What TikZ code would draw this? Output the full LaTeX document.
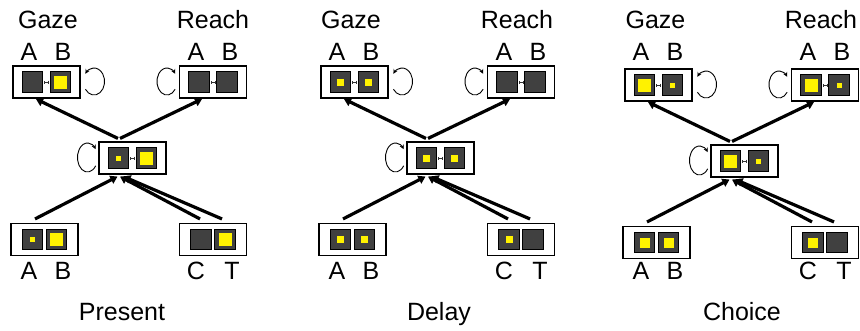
\documentclass[tikz,border=0pt]{standalone}
\usepackage{fontspec}
\setmainfont{Liberation Sans}
\usetikzlibrary{calc,arrows.meta}
\definecolor{sqfill}{HTML}{404040}
\tikzset{
  outer/.style={draw=black, line width=1.1pt, fill=white, minimum width=67pt, minimum height=32pt, inner sep=0pt},
  sq/.style={draw=black, line width=0.8pt, fill=sqfill, minimum size=20.5pt, inner sep=0pt},
  ylw/.style={fill=yellow, minimum size=#1, inner sep=0pt},
  lbl/.style={font=\fontsize{25}{25}\selectfont, anchor=base, inner sep=0pt},
  arr/.style={line width=3.2pt, -{Triangle[length=7pt,width=8.5pt]}},
  selfloop/.style={line width=0.9pt, -{Stealth[length=4.5pt,width=4.5pt]}},
  link/.style={line width=0.7pt, draw=black!80, {Bar[width=3pt]}-{Bar[width=3pt]}}
}
% box with two linked squares: name, x, y (image coords), yellow A, yellow B
\newcommand\topbox[5]{%
  \node[outer] (#1) at (#2,-#3) {};
  \node[sq] (#1-a) at ($(#1.center)+(-14pt,0)$) {};
  \node[sq] (#1-b) at ($(#1.center)+(14pt,0)$) {};
  \node[ylw=#4pt] at (#1-a) {};
  \node[ylw=#5pt] at (#1-b) {};
  \draw[link] ($(#1-a.east)+(1pt,0)$) -- ($(#1-b.west)+(-1pt,0)$);
}
% box with two adjacent squares
\newcommand\botbox[5]{%
  \node[outer] (#1) at (#2,-#3) {};
  \node[sq] (#1-a) at ($(#1.center)+(-12pt,0)$) {};
  \node[sq] (#1-b) at ($(#1.center)+(12pt,0)$) {};
  \node[ylw=#4pt] at (#1-a) {};
  \node[ylw=#5pt] at (#1-b) {};
}
% connectors and self loops of one panel
\newcommand\wires[1]{%
  \coordinate (#1s1) at ($(#1m.north)+(-14.5pt,3pt)$);
  \coordinate (#1s2) at ($(#1m.north)+(-12.5pt,3pt)$);
  \coordinate (#1t1) at ($(#1g.south)+(-10.5pt,-0.5pt)$);
  \coordinate (#1t2) at ($(#1r.south)+(-11pt,-0.5pt)$);
  \draw[arr] (#1s1) -- (#1t1);
  \draw[arr] (#1s2) -- (#1t2);
  \coordinate (#1b1) at ($(#1ab.north)+(-9.5pt,4pt)$);
  \coordinate (#1b2) at ($(#1ct.north)+(-13pt,4pt)$);
  \coordinate (#1b3) at ($(#1ct.north)+(9pt,4pt)$);
  \coordinate (#1e1) at ($(#1m.south)+(-15pt,-2pt)$);
  \coordinate (#1e2) at ($(#1m.south)+(-12.5pt,-2pt)$);
  \coordinate (#1e3) at ($(#1m.south)+(-9pt,-2pt)$);
  \draw[arr] (#1b1) -- (#1e1);
  \draw[arr] (#1b2) -- (#1e2);
  \draw[arr] (#1b3) -- (#1e3);
  \coordinate (#1lg) at ($(#1g.east)+(13.5pt,0.5pt)$);
  \coordinate (#1lr) at ($(#1r.west)+(-12pt,0.5pt)$);
  \coordinate (#1lm) at ($(#1m.west)+(-11pt,0.5pt)$);
  \draw[selfloop] ($(#1lg)+(215:10.5pt and 13.5pt)$) arc[start angle=215, end angle=505, x radius=10.5pt, y radius=13.5pt];
  \draw[selfloop] ($(#1lr)+(325:10pt and 13.5pt)$) arc[start angle=325, end angle=35, x radius=10pt, y radius=13.5pt];
  \draw[selfloop] ($(#1lm)+(325:10pt and 14.5pt)$) arc[start angle=325, end angle=35, x radius=10pt, y radius=14.5pt];
}
\newcommand\labels[6]{% prefix, box offset, gaze x, reach x, title x, title
  \node[lbl] (#1gazelbl) at (#3,-28) {Gaze};
  \node[lbl] (#1reachlbl) at (#4,-28) {Reach};
  \node[lbl] (#1ga) at (29+#2,-60) {A};
  \node[lbl] (#1gb) at (63+#2,-60) {B};
  \node[lbl] (#1ra) at (196+#2,-60) {A};
  \node[lbl] (#1rb) at (230+#2,-60) {B};
  \node[lbl] (#1la) at (29+#2,-279) {A};
  \node[lbl] (#1lb) at (63+#2,-279) {B};
  \node[lbl] (#1lc) at (196+#2,-279) {C};
  \node[lbl] (#1lt) at (232+#2,-279) {T};
  \node[lbl] (#1title) at (#5,-320) {#6};
}
\begin{document}
\begin{tikzpicture}[x=1pt,y=1pt]
\useasboundingbox (0,0) rectangle (860,-330);
% Present
\topbox{Pg}{46.5}{82}{0}{13}
\topbox{Pr}{213}{82}{0}{0}
\topbox{Pm}{132.5}{158}{5}{13}
\botbox{Pab}{44.5}{239.5}{5}{13}
\botbox{Pct}{213}{239.5}{0}{13}
\wires{P}
\labels{P}{0}{48}{213}{122}{Present}
% Delay
\topbox{Dg}{354.5}{82}{7}{7}
\topbox{Dr}{521}{82}{0}{0}
\topbox{Dm}{440.5}{158}{7}{7}
\botbox{Dab}{352.5}{239.5}{7}{7}
\botbox{Dct}{521}{239.5}{7}{0}
\wires{D}
\labels{D}{308}{351}{517}{439}{Delay}
% Choice
\topbox{Cg}{658.5}{85}{13}{5}
\topbox{Cr}{825}{85}{13}{5}
\topbox{Cm}{744.5}{161}{13}{5}
\botbox{Cab}{656.5}{242.5}{10}{10}
\botbox{Cct}{825}{242.5}{10}{0}
\wires{C}
\labels{C}{612}{655.5}{821}{742}{Choice}
\end{tikzpicture}
\end{document}
